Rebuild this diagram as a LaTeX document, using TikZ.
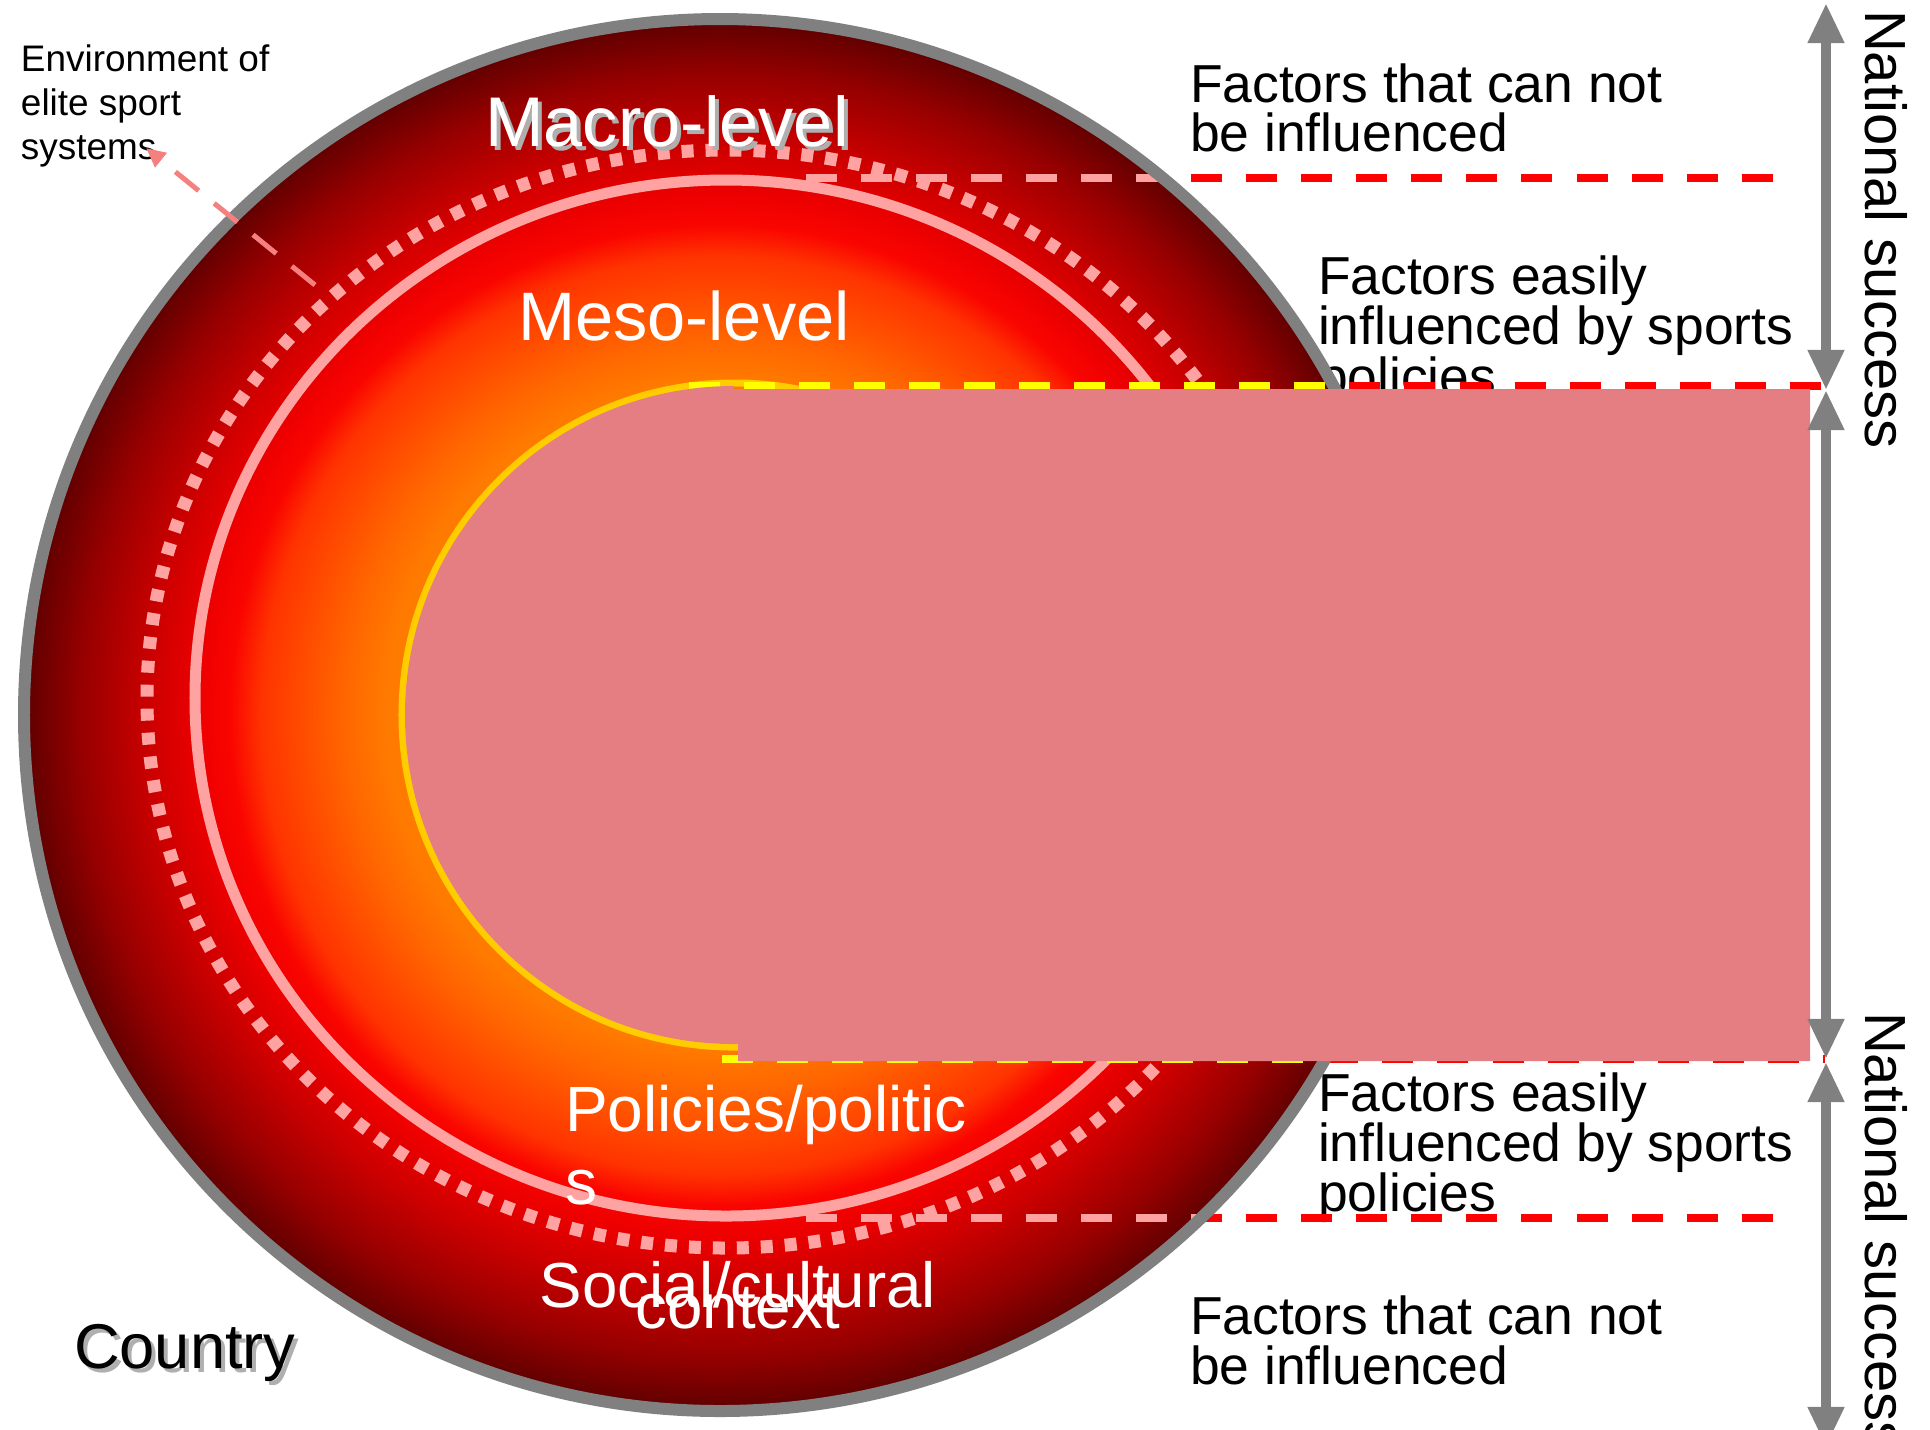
\documentclass[tikz,border=0pt]{standalone}
\usepackage{fontspec}
\setmainfont{Liberation Sans}
\usetikzlibrary{arrows.meta}
\definecolor{ringgray}{RGB}{128,128,128}
\definecolor{pinkring}{RGB}{255,162,162}
\definecolor{goldline}{RGB}{255,204,0}
\definecolor{dashyellow}{RGB}{255,255,0}
\definecolor{dashred}{RGB}{255,0,0}
\definecolor{orangefill}{RGB}{255,122,0}
\definecolor{patfill}{RGB}{229,126,130}
\definecolor{shadowgray}{RGB}{175,175,175}
\definecolor{envpink}{RGB}{245,128,128}
\pgfdeclareradialshading{discshade}{\pgfpoint{0bp}{0bp}}{rgb(0bp)=(1,0.52,0); rgb(12bp)=(1,0.48,0); rgb(13.5bp)=(1,0.4,0); rgb(16.5bp)=(1,0.2,0); rgb(17.6bp)=(0.98,0.02,0); rgb(18.7bp)=(0.93,0,0); rgb(20.5bp)=(0.8,0,0); rgb(23bp)=(0.59,0,0); rgb(25bp)=(0.37,0,0); rgb(50bp)=(0.37,0,0)}
\begin{document}
\begin{tikzpicture}[x=0.01cm,y=-0.01cm,
  lbl/.style={inner sep=0pt,outer sep=0pt},
  sidetext/.style={lbl,anchor=base west,font=\fontsize{15.2}{14}\selectfont},
  bigwhite/.style={lbl,text=white},
  leveldash/.style={line width=2.13pt,dash pattern=on 8.82pt off 6.83pt},
  natarrow/.style={ringgray,line width=2.85pt,{Triangle[width=9.7pt,length=11.4pt]}-{Triangle[width=9.7pt,length=11.4pt]}},
  nattext/.style={lbl,anchor=base west,rotate=-90,font=\fontsize{16.5}{18}\selectfont}]
\useasboundingbox (0,0) rectangle (1930,1429);
\fill[white] (0,0) rectangle (1930,1429);

% right-hand texts
\node[sidetext] (f1a) at (1190,102) {Factors that can not};
\node[sidetext] (f1b) at (1190,151) {be influenced};
\node[sidetext] (f2a) at (1318,294) {Factors easily};
\node[sidetext] (f2b) at (1318,344) {influenced by sports};
\node[sidetext] (f2c) at (1318,395) {policies};
\node[sidetext] (f3a) at (1318,1111) {Factors easily};
\node[sidetext] (f3b) at (1318,1161) {influenced by sports};
\node[sidetext] (f3c) at (1318,1211) {policies};
\node[sidetext] (f4a) at (1190,1334) {Factors that can not};
\node[sidetext] (f4b) at (1190,1384) {be influenced};

% level lines (red part, under the circle)
\coordinate (l1s) at (806,178);  \coordinate (l1e) at (1793,178);
\coordinate (l2s) at (689,386);  \coordinate (l2e) at (1825,386);
\coordinate (l3s) at (722,1059); \coordinate (l3e) at (1825,1059);
\coordinate (l4s) at (806,1218); \coordinate (l4e) at (1793,1218);
\draw[leveldash,dashred] (l1s) -- (l1e);
\draw[leveldash,dashred] (l2s) -- (l2e);
\draw[leveldash,dashred] (l3s) -- (l3e);
\draw[leveldash,dashred] (l4s) -- (l4e);

% country disc
\coordinate (cc) at (720,715);
\shade[shading=discshade] (cc) circle[radius=696];
\draw[ringgray,line width=3.41pt] (cc) circle[radius=696];

% rings
\coordinate (rc) at (726,699);
\draw[pinkring,line width=3.7pt,dash pattern=on 3.41pt off 3.41pt] (rc) ellipse[x radius=579,y radius=549];
\draw[pinkring,line width=3.13pt] (726,698) ellipse[x radius=531,y radius=518];

% level lines inside the circle
\begin{scope}
\clip (cc) circle[radius=690];
\draw[leveldash,pinkring] (l1s) -- (l1e);
\draw[leveldash,pinkring] (l4s) -- (l4e);
\end{scope}

% inner core
\coordinate (ic) at (734,715);
\draw[goldline,fill=orangefill,line width=2pt] (ic) circle[radius=332];
\begin{scope}
\clip (cc) circle[radius=690];
\draw[leveldash,dashyellow] (l2s) -- (l2e);
\draw[leveldash,dashyellow] (l3s) -- (l3e);
\end{scope}

% patterned cover
\fill[patfill] (734,389) -- (1810,389) -- (1810,1061) -- (738,1061) -- (738,1044) -- (734,1044)
  arc[start angle=90,end angle=270,radius=329] -- cycle;

% level labels
\node[lbl,text=shadowgray,anchor=base,font=\fontsize{20}{22}\selectfont] (macrosh) at (671,150) {Macro-level};
\node[bigwhite,anchor=base,font=\fontsize{20}{22}\selectfont] (macro) at (667,146) {Macro-level};
\node[bigwhite,anchor=base,font=\fontsize{19.5}{22}\selectfont] (meso) at (684,340) {Meso-level};
\node[bigwhite,anchor=base west,font=\fontsize{18.2}{20}\selectfont] (pol1) at (565,1131) {Policies/politic};
\node[bigwhite,anchor=base west,font=\fontsize{18.2}{20}\selectfont] (pol2) at (565,1204) {s};
\node[bigwhite,anchor=base,font=\fontsize{18.1}{20}\selectfont] (soc1) at (738,1307) {Social/cultural};
\node[bigwhite,anchor=base,font=\fontsize{18.1}{20}\selectfont] (soc2) at (738,1328) {context};
\node[lbl,text=shadowgray,anchor=base west,font=\fontsize{18}{20}\selectfont] (countrysh) at (78,1372) {Country};
\node[lbl,anchor=base west,font=\fontsize{18}{20}\selectfont] (country) at (74,1368) {Country};

% environment label and arrow
\node[lbl,anchor=base west,font=\fontsize{10.5}{12.5}\selectfont] (env1) at (21,71) {Environment of};
\node[lbl,anchor=base west,font=\fontsize{10.5}{12.5}\selectfont] (env2) at (21,115) {elite sport};
\node[lbl,anchor=base west,font=\fontsize{10.5}{12.5}\selectfont] (env3) at (21,159) {systems};
\coordinate (envs) at (315,285);
\coordinate (envt) at (146,148);
\draw[envpink,line width=1.42pt,dash pattern=on 8.5pt off 5.7pt,-{Triangle[width=5pt,length=5.5pt]}] (envs) -- (envt);

% national success arrows
\coordinate (a1) at (1826,3);   \coordinate (a2) at (1826,390);
\coordinate (a3) at (1826,390); \coordinate (a4) at (1826,1059);
\coordinate (a5) at (1826,1062);\coordinate (a6) at (1826,1447);
\draw[natarrow] (a1) -- (a2);
\draw[natarrow] (a3) -- (a4);
\draw[natarrow] (a5) -- (a6);
\node[nattext] (nat1) at (1865,10) {National success};
\node[nattext] (nat2) at (1865,1012) {National success};
\end{tikzpicture}
\end{document}
